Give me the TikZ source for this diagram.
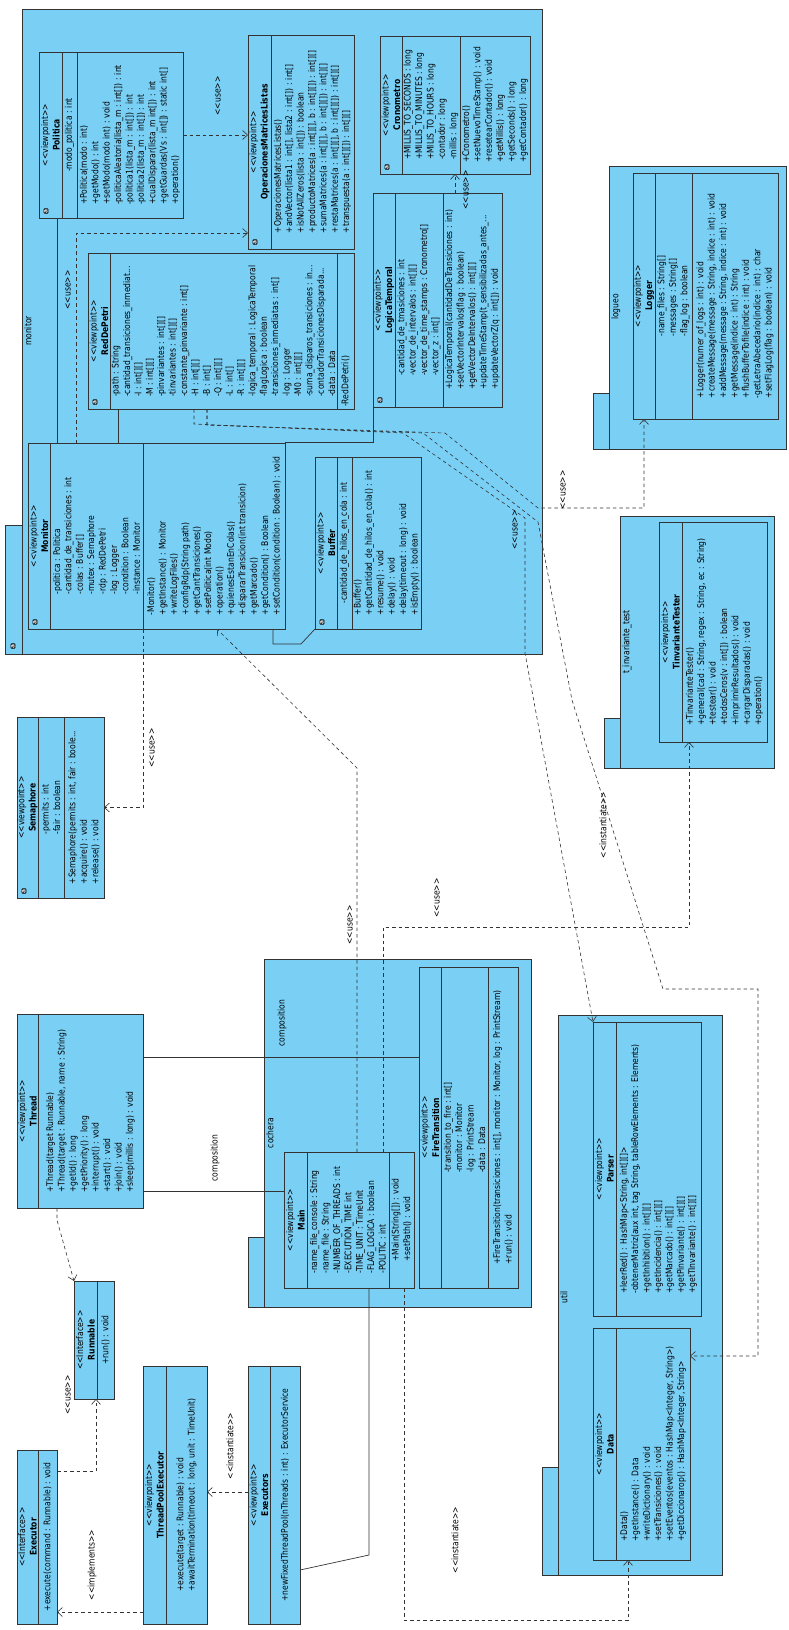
\documentclass[tikz,border=0pt]{standalone}
\usepackage{fontspec}
\newfontfamily\umlfont{DejaVu Sans}
\usetikzlibrary{arrows.meta}

\definecolor{umlblue}{HTML}{7ACFF5}
\definecolor{umlline}{HTML}{333333}

\tikzset{
  pkg/.style={draw=umlline, fill=umlblue, line width=0.8pt},
  cls/.style={draw=umlline, fill=umlblue, line width=0.8pt, inner sep=0pt, outer sep=0pt},
  sep/.style={draw=umlline, line width=0.8pt},
  txt/.style={rotate=90, yscale=1.2, align=left, inner sep=0pt, font=\umlfont\fontsize{7.6}{9.5}\selectfont},
  ttl/.style={rotate=90, yscale=1.2, align=center, inner sep=0pt, font=\umlfont\fontsize{7.6}{9.5}\selectfont},
  lbl/.style={rotate=90, yscale=1.2, inner sep=1pt, font=\umlfont\fontsize{7.6}{9.5}\selectfont},
  aicon/.style={rotate=90, fill=black, text=white, rounded corners=1pt, inner sep=0.7pt, font=\umlfont\fontsize{6}{6}\selectfont\bfseries},
  dep/.style={draw=umlline, line width=0.6pt, dash pattern=on 3.5pt off 3pt, ->},
  assoc/.style={draw=umlline, line width=0.7pt}
}

\begin{document}
\begin{tikzpicture}[x=1pt, y=-1pt, >={Straight Barb[length=5pt,width=9pt]}]
\useasboundingbox (0,0) rectangle (789,1630);
\fill[white] (0,0) rectangle (789,1630);

\draw[pkg] (5,525) rectangle (22,654);
\draw[pkg] (22,9) rectangle (542,654);
\node[aicon] (monitor-pi) at (13,646) {a};
\node[lbl, anchor=north] (monitor-pl) at (23,331) {monitor};

\draw[pkg] (593,393) rectangle (609,449);
\draw[pkg] (609,166) rectangle (786,449);
\node[lbl, anchor=north] (logueo-pl) at (610,307) {logueo};

\draw[pkg] (604,718) rectangle (620,768);
\draw[pkg] (620,516) rectangle (774,768);
\node[lbl, anchor=north] (tinv-pl) at (621,642) {t\_invariante\_test};

\draw[pkg] (248,1237) rectangle (264,1307);
\draw[pkg] (264,959) rectangle (531,1307);
\node[lbl, anchor=north] (cochera-pl) at (265,1133) {cochera};

\draw[pkg] (542,1467) rectangle (558,1575);
\draw[pkg] (558,1015) rectangle (722,1575);
\node[lbl, anchor=north] (util-pl) at (559,1297) {util};

\draw[sep] (285,442) -- (373,442) -- (373,407);

\node[cls, minimum width=144pt, minimum height=166pt] (politica) at (111,135) {};
\draw[sep] (62,52) -- (62,218);
\draw[sep] (77,52) -- (77,218);
\node[ttl] (politica-t) at (50.5,135) {<<viewpoint>>\\\textbf{Politica}};
\node[txt] (politica-a) at (69.5,135) {-modo\_politica : int};
\node[txt] (politica-m) at (130,135) {+Politica(modo : int)\\+getModo() : int\\+setModo(modo int) : void\\-politicaAleatoria(lista\_m : int[]) : int\\-politica1(lista\_m : int[]) : int\\-politica2(lista\_m : int[]) : int\\+cualDisparar(lista\_m int[]) : int\\+getGuardas(Vs : int[]) : static int[]\\+operation()};
\node[aicon] (politica-i) at (46,211) {a};

\node[cls, minimum width=106pt, minimum height=214pt] (oml) at (301,142) {};
\draw[sep] (271,35) -- (271,249);
\node[ttl] (oml-t) at (259.5,142) {<<viewpoint>>\\\textbf{OperacionesMatricesListas}};
\node[txt] (oml-m) at (312.5,142) {+OperacionesMatricesListas()\\+andVector(lista1 : int[], lista2 : int[]) : int[]\\+isNotAllZeros(lista : int[]) : boolean\\+productoMatrices(a : int[][], b : int[][]) : int[][]\\+sumaMatrices(a : int[][], b : int[][]) : int[][]\\+restaMatrices(a : int[][], b : int[][]) : int[][]\\+transpuesta(a : int[][]) : int[][]};
\node[aicon] (oml-i) at (255,242) {a};

\node[cls, minimum width=150pt, minimum height=138pt] (crono) at (455,105) {};
\draw[sep] (402,36) -- (402,174);
\draw[sep] (460,36) -- (460,174);
\node[ttl] (crono-t) at (391,105) {<<viewpoint>>\\\textbf{Cronometro}};
\node[txt] (crono-a) at (431,105) {+MILLIS\_TO\_SECONDS : long\\+MILLIS\_TO\_MINUTES : long\\+MILIS\_TO\_HOURS : long\\-contador : long\\-millis : long};
\node[txt] (crono-m) at (495,105) {+Cronometro()\\+setNuevoTimeStamp() : void\\+resetearContador() : void\\+getMillis() : long\\+getSeconds() : long\\+getContador() : long};
\node[aicon] (crono-i) at (387,167) {a};

\node[cls, minimum width=266pt, minimum height=156pt] (rdp) at (221,331) {};
\draw[sep] (110,253) -- (110,409);
\draw[sep] (337,253) -- (337,409);
\node[ttl] (rdp-t) at (99,331) {<<viewpoint>>\\\textbf{RedDePetri}};
\node[txt] (rdp-a) at (223.5,331) {-path : String\\-cantidad\_transiciones\_inmediat...\\-I : int[][]\\-M : int[][]\\-pinvariantes : int[][]\\-tinvariantes : int[][]\\-constante\_pinvariante : int[]\\-H : int[][]\\-B : int[]\\-Q : int[][]\\-L : int[]\\-R : int[][]\\-logica\_temporal : LogicaTemporal\\-flagLogica : boolean\\-transiciones\_inmediatas : int[]\\-log : Logger\\-M0 : int[][]\\-suma\_disparos\_transiciones : in...\\-contadorTransicionesDisparada...\\-data : Data};
\node[txt, anchor=west] (rdp-m) at (345.5,407) {-RedDePetri()};
\node[aicon] (rdp-i) at (95,402) {a};

\node[cls, minimum width=129pt, minimum height=214pt] (logt) at (437.5,300) {};
\draw[sep] (395,193) -- (395,407);
\draw[sep] (443,193) -- (443,407);
\node[ttl] (logt-t) at (384,300) {<<viewpoint>>\\\textbf{LogicaTemporal}};
\node[txt] (logt-a) at (419,300) {-cantidad\_de\_tmasiciones : int\\-vector\_de\_intervalos : int[][]\\-vector\_de\_time\_stamps : Cronometro[]\\-vector\_z : int[]};
\node[txt] (logt-m) at (472.5,300) {+LogicaTemporal(cantidadDeTransiciones : int)\\+setVectorIntervalos(flag : boolean)\\+getVectorDeIntervalos() : int[][]\\+updateTimeStamp(t\_sensibilizadas\_antes\_...\\+updateVectorZ(q : int[]) : void};
\node[aicon] (logt-i) at (380,400) {a};

\node[cls, minimum width=257pt, minimum height=186pt] (monitor) at (156.5,536) {};
\draw[sep] (50,443) -- (50,629);
\draw[sep] (143,443) -- (143,629);
\node[ttl] (monitor-t) at (39,536) {<<viewpoint>>\\\textbf{Monitor}};
\node[txt] (monitor-a) at (96.5,536) {-politica : Politica\\-cantidad\_de\_transiciones : int\\-colas : Buffer[]\\-mutex : Semaphore\\-rdp : RedDePetri\\-log : Logger\\-condition : Boolean\\-instance : Monitor};
\node[txt] (monitor-m) at (214,536) {-Monitor()\\+getInstance() : Monitor\\+writeLogFiles()\\+configRdp(String path)\\+getCantTransiciones()\\+setPolitica(int Modo)\\+operation()\\+quienesEstanEnColas()\\+dispararTransicion(int transicion)\\+getMarcado()\\+getCondition() : Boolean\\+setCondition(condition : Boolean) : void};
\node[aicon] (monitor-i) at (35,622) {a};

\node[cls, minimum width=106pt, minimum height=172pt] (buffer) at (368,543) {};
\draw[sep] (337,457) -- (337,629);
\draw[sep] (352,457) -- (352,629);
\node[ttl] (buffer-t) at (326,543) {<<viewpoint>>\\\textbf{Buffer}};
\node[txt] (buffer-a) at (344.5,543) {-cantidad\_de\_hilos\_en\_cola : int};
\node[txt] (buffer-m) at (386.5,543) {+Buffer()\\+getCantidad\_de\_hilos\_en\_cola() : int\\+resume() : void\\+delay() : void\\+delay(timeout : long) : void\\+isEmpty() : boolean};
\node[aicon] (buffer-i) at (322,622) {a};

\node[cls, minimum width=87pt, minimum height=181pt] (semaphore) at (60.5,807.5) {};
\draw[sep] (38,717) -- (38,898);
\draw[sep] (64,717) -- (64,898);
\node[ttl] (semaphore-t) at (27.5,807.5) {<<viewpoint>>\\\textbf{Semaphore}};
\node[txt] (semaphore-a) at (51,807.5) {-permits : int\\-fair : boolean};
\node[txt] (semaphore-m) at (84,807.5) {+Semaphore(permits : int, fair : boole...\\+acquire() : void\\+release() : void};
\node[aicon] (semaphore-i) at (24,891) {a};

\node[cls, minimum width=145pt, minimum height=246pt] (logger) at (705.5,296) {};
\draw[sep] (655,173) -- (655,419);
\draw[sep] (692,173) -- (692,419);
\node[ttl] (logger-t) at (644,296) {<<viewpoint>>\\\textbf{Logger}};
\node[txt] (logger-a) at (673.5,296) {-name\_files : String[]\\-messages : String[]\\-flag\_log : boolean};
\node[txt] (logger-m) at (735,296) {+Logger(numer\_of\_logs : int) : void\\+createMessage(message : String, indice : int) : void\\+addMessage(message : String, indice : int) : void\\+getMessage(indice : int) : String\\+flushBufferTofile(indice : int) : void\\-getLetraAbecedario(indice : int) : char\\+setFlagLog(flag : boolean) : void};

\node[cls, minimum width=108pt, minimum height=220pt] (tinv) at (713,632) {};
\draw[sep] (682,522) -- (682,742);
\node[ttl] (tinv-t) at (670.5,632) {<<viewpoint>>\\\textbf{TinvarianteTester}};
\node[txt] (tinv-m) at (724.5,632) {+TinvarianteTester()\\+general(cad : String, regex : String, ec : String)\\+testear() : void\\+todosCeros(v : int[]) : bolean\\+imprimirResultados() : void\\+cargarDisparadas() : void\\+operation()};

\node[cls, minimum width=126pt, minimum height=194pt] (thread) at (80,1111) {};
\draw[sep] (38,1014) -- (38,1208);
\node[ttl] (thread-t) at (27.5,1111) {<<viewpoint>>\\\textbf{Thread}};
\node[txt] (thread-m) at (90.5,1111) {+Thread(target Runnable)\\+Thread(target : Runnable, name : String)\\+getId() : long\\+getPriority() : long\\+interrupt() : void\\+start() : void\\+join() : void\\+sleep(millis : long) : void};

\node[cls, minimum width=40pt, minimum height=118pt] (runnable) at (94,1340) {};
\draw[sep] (97,1281) -- (97,1399);
\node[ttl] (runnable-t) at (85.5,1340) {<<Interface>>\\\textbf{Runnable}};
\node[txt] (runnable-m) at (105.5,1340) {+run() : void};

\node[cls, minimum width=40pt, minimum height=174pt] (executor) at (37,1537) {};
\draw[sep] (38,1450) -- (38,1624);
\node[ttl] (executor-t) at (27.5,1537) {<<Interface>>\\\textbf{Executor}};
\node[txt] (executor-m) at (47.5,1537) {+execute(command : Runnable) : void};

\node[cls, minimum width=64pt, minimum height=258pt] (tpe) at (175,1495) {};
\draw[sep] (166,1366) -- (166,1624);
\node[ttl] (tpe-t) at (154.5,1495) {<<viewpoint>>\\\textbf{ThreadPoolExecutor}};
\node[txt] (tpe-m) at (186.5,1495) {+execute(target : Runnable) : void\\+awaitTermination(timeout : long, unit : TimeUnit)};

\node[cls, minimum width=52pt, minimum height=258pt] (executors) at (274,1495) {};
\draw[sep] (270,1366) -- (270,1624);
\node[ttl] (executors-t) at (259,1495) {<<viewpoint>>\\\textbf{Executors}};
\node[txt] (executors-m) at (285,1495) {+newFixedThreadPool(nThreads : int) : ExecutorService};

\node[cls, minimum width=130pt, minimum height=136pt] (main) at (349,1220) {};
\draw[sep] (307,1152) -- (307,1288);
\draw[sep] (389,1152) -- (389,1288);
\node[ttl] (main-t) at (295.5,1220) {<<viewpoint>>\\\textbf{Main}};
\node[txt] (main-a) at (348,1220) {-name\_file\_console : String\\-name\_file : String\\-NUMBER\_OF\_THREADS : int\\-EXECUTION\_TIME int\\-TIME\_UNIT : TimeUnit\\-FLAG\_LOGICA : boolean\\-POLITIC : int};
\node[txt] (main-m) at (401.5,1220) {+Main(String[]) : void\\+setPath() : void};

\node[cls, minimum width=99pt, minimum height=321pt] (fire) at (468.5,1127.5) {};
\draw[sep] (441,967) -- (441,1288);
\draw[sep] (488,967) -- (488,1288);
\node[ttl] (fire-t) at (430,1127.5) {<<viewpoint>>\\\textbf{FireTransition}};
\node[txt] (fire-a) at (464.5,1127.5) {-transition\_to\_fire : int[]\\-monitor : Monitor\\-log : PrintStream\\-data : Data};
\node[txt] (fire-m) at (503,1127.5) {+FireTransition(transiciones : int[], monitor : Monitor, log : PrintStream)\\+run() : void};

\node[cls, minimum width=108pt, minimum height=294pt] (parser) at (647,1169) {};
\draw[sep] (616,1022) -- (616,1316);
\node[ttl] (parser-t) at (604.5,1169) {<<viewpoint>>\\\textbf{Parser}};
\node[txt] (parser-m) at (658.5,1169) {+leerRed() : HashMap<String, int[][]>\\-obtenerMatriz(aux int, tag String, tableRowElements : Elements)\\+getInhibition() : int[][]\\+getIncidencia() : int[][]\\+getMarcado() : int[][]\\+getPinvariante() : int[][]\\+getTInvariante() : int[][]};

\node[cls, minimum width=97pt, minimum height=232pt] (data) at (641.5,1444) {};
\draw[sep] (616,1328) -- (616,1560);
\node[ttl] (data-t) at (604.5,1444) {<<viewpoint>>\\\textbf{Data}};
\node[txt] (data-m) at (653,1444) {+Data()\\+getInstance() : Data\\+writeDictionary() : void\\+setTransiciones() : void\\+setEventos(eventos : HashMap<Integer, String>)\\+getDiccionarop() : HashMap<Integer, String>};

\draw[dep] (politica.east) -- (politica.east -| oml.west);
\node[lbl] (politica-oml-l) at (218,96) {<<use>>};
\draw[dep] ([xshift=48pt]monitor.north west) |- ([yshift=16pt]oml.south west);
\node[lbl] (monitor-oml-l) at (68,290) {<<use>>};
\draw[assoc] ([xshift=18pt]politica.south west) -- ++(0,225);
\draw[assoc] ([xshift=30pt]rdp.south west) -- ++(0,34);
\draw[dep] ([xshift=115pt]monitor.south west) |- (semaphore.east);
\node[lbl] (monitor-sem-l) at (152,748) {<<use>>};
\draw[assoc] ([xshift=-12pt]monitor.south east) -- ++(0,15) -- ++(28,0) -- (buffer.south west);
\draw[dep] ([xshift=82pt]logt.north west) -- ++(0,-19);
\node[lbl] (logt-crono-l) at (466,190) {<<use>>};

\draw[dep] ([xshift=106pt]rdp.south west) -- ++(0,15) -- (403,433) -- (525,518) -- (525,653) -- (parser.north west);
\node[lbl] (rdp-parser-l) at (515,530) {<<use>>};
\draw[dep] ([xshift=119pt]rdp.south west) -- ++(0,16) -- (423,433) -- (538,522) -- (572,700) -- (663,989) -- (758,989) |- ([yshift=-28pt]data.north east);
\node[lbl] (rdp-data-l) at (603,825) {<<instantiate>>};
\draw[dep] ([xshift=119pt]rdp.south west) -- ++(0,16) -- (445,433) -- (538,508) -| ([xshift=11pt]logger.south west);
\node[lbl] (rdp-logger-l) at (563,490) {<<use>>};

\draw[dep] ([xshift=73pt]main.north west) -- ++(0,-384) -- ([xshift=-68pt]monitor.south east);
\node[lbl] (main-monitor-l) at (350,925) {<<use>>};
\draw[dep] ([xshift=99pt]main.north west) -- ++(0,-225) -| ([xshift=30pt]tinv.south west);
\node[lbl] (main-tinv-l) at (437,898) {<<use>>};
\draw[dep] ([xshift=120pt]main.south west) -- ++(0,332) -| ([xshift=35pt]data.south west);
\node[lbl] (main-data-l) at (455,1540) {<<instantiate>>};
\draw[assoc] ([xshift=85pt]main.south west) -- ++(0,267) -- ([yshift=54pt]executors.south east);

\draw[assoc] ([yshift=-43pt]thread.north east) -- ++(276,0);
\node[lbl] (thread-fire-l) at (282,1023) {composition};
\draw[assoc] ([yshift=17pt]thread.south east) -- ++(141,0);
\node[lbl] (thread-main-l) at (215,1158) {composition};
\draw[dep] ([xshift=40pt]thread.south west) -- ++(0,12) -- (runnable.north west);
\draw[dep] ([yshift=-21pt]executor.north east) -| ([xshift=22pt]runnable.south west);
\node[lbl] (executor-run-l) at (68,1395) {<<use>>};
\draw[dep] ([yshift=-126pt]executors.north west) -- ++(-41,0);
\node[lbl] (executors-tpe-l) at (230,1446) {<<instantiate>>};
\draw[dep] ([yshift=12pt]tpe.south west) -- ++(-86,0);
\node[lbl] (tpe-executor-l) at (92,1565) {<<implements>>};
\end{tikzpicture}
\end{document}
